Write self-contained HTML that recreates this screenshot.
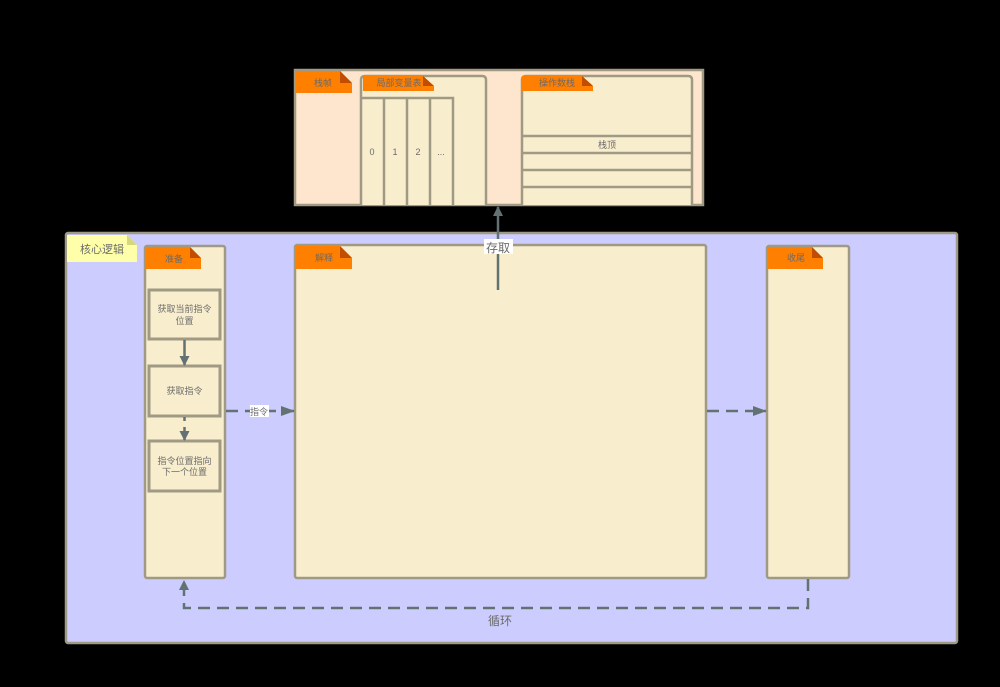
<!DOCTYPE html>
<html><head><meta charset="utf-8"><style>
html,body{margin:0;padding:0;background:#000;width:1000px;height:687px;overflow:hidden}
svg text{font-family:"Liberation Sans","Noto Sans CJK SC",sans-serif;fill:#6b6b6b}
</style></head><body>
<svg width="1000" height="687" viewBox="0 0 1000 687" xmlns="http://www.w3.org/2000/svg">
<defs>
<marker id="ah" markerWidth="10" markerHeight="12" refX="9" refY="6" orient="auto" markerUnits="userSpaceOnUse">
<path d="M0,1 L10,6 L0,11 Z" fill="#627272"/></marker>
<marker id="ah2" markerWidth="14" markerHeight="10" refX="13" refY="5" orient="auto" markerUnits="userSpaceOnUse">
<path d="M0,0 L14,5 L0,10 Z" fill="#627272"/></marker>
</defs>
<!-- stack frame -->
<rect x="295" y="70" width="408" height="135" fill="#fee5cd" stroke="#a09a85" stroke-width="2.5"/>
<path d="M296,71 H340 L352,83 V93 H296 Z" fill="#ff7f00"/><path d="M340,71 L352,83 H340 Z" fill="#c14d00"/>
<text x="323" y="86" font-size="9" text-anchor="middle">栈帧</text>
<!-- local var table -->
<path d="M361,205 V80 Q361,76 365,76 H482 Q486,76 486,80 V205" fill="#f8edcd" stroke="#a09a85" stroke-width="2.5"/>
<path d="M363,76 H423 L434,86 V91 H363 Z" fill="#ff7f00"/><path d="M423,76 L434,86 H423 Z" fill="#c14d00"/>
<text x="399" y="86" font-size="9" text-anchor="middle">局部变量表</text>
<path d="M361,98 H453 V205 M384,98 V205 M407,98 V205 M430,98 V205" fill="none" stroke="#a09a85" stroke-width="2.5"/>
<text x="372" y="155" font-size="9" text-anchor="middle">0</text>
<text x="395" y="155" font-size="9" text-anchor="middle">1</text>
<text x="418" y="155" font-size="9" text-anchor="middle">2</text>
<text x="441" y="155" font-size="9" text-anchor="middle" fill="#aaa">...</text>
<!-- operand stack -->
<path d="M522,205 V80 Q522,76 526,76 H688 Q692,76 692,80 V205" fill="#f8edcd" stroke="#a09a85" stroke-width="2.5"/>
<path d="M522,76 H582 L593,86 V91 H522 Z" fill="#ff7f00"/><path d="M582,76 L593,86 H582 Z" fill="#c14d00"/>
<text x="557" y="86" font-size="9" text-anchor="middle">操作数栈</text>
<path d="M522,136 H692 M522,153 H692 M522,170 H692 M522,187 H692" stroke="#a09a85" stroke-width="2.5"/>
<text x="607" y="148" font-size="9" text-anchor="middle">栈顶</text>
<!-- core -->
<rect x="66" y="233" width="891" height="410" rx="2" fill="#ccccfe" stroke="#a09a85" stroke-width="2.5"/>
<path d="M67,235 H127 L137,245 V262 H67 Z" fill="#ffffaa"/><path d="M127,235 L137,245 H127 Z" fill="#d6d67a"/>
<text x="102" y="253" font-size="11" text-anchor="middle">核心逻辑</text>
<!-- prepare -->
<rect x="145" y="246" width="80" height="332" rx="2" fill="#f8edcd" stroke="#a09a85" stroke-width="2.5"/>
<path d="M146,247 H190 L201,258 V269 H146 Z" fill="#ff7f00"/><path d="M190,247 L201,258 H190 Z" fill="#c14d00"/>
<text x="174" y="262" font-size="9" text-anchor="middle">准备</text>
<rect x="149" y="290" width="71" height="49" fill="#f8edcd" stroke="#a09a85" stroke-width="3"/>
<text x="184.5" y="312" font-size="9" text-anchor="middle">获取当前指令</text>
<text x="184.5" y="324" font-size="9" text-anchor="middle">位置</text>
<rect x="149" y="366" width="71" height="50" fill="#f8edcd" stroke="#a09a85" stroke-width="3"/>
<text x="184.5" y="394" font-size="9" text-anchor="middle">获取指令</text>
<rect x="149" y="441" width="71" height="50" fill="#f8edcd" stroke="#a09a85" stroke-width="3"/>
<text x="184.5" y="464" font-size="9" text-anchor="middle">指令位置指向</text>
<text x="184.5" y="475" font-size="9" text-anchor="middle">下一个位置</text>
<line x1="184.5" y1="340" x2="184.5" y2="365" stroke="#627272" stroke-width="2.5" marker-end="url(#ah)"/>
<line x1="184.5" y1="417" x2="184.5" y2="440" stroke="#627272" stroke-width="2.5" stroke-dasharray="4,6" marker-end="url(#ah)"/>
<!-- interpret -->
<rect x="295" y="245" width="411" height="333" rx="2" fill="#f8edcd" stroke="#a09a85" stroke-width="2.5"/>
<path d="M296,246 H340 L352,258 V269 H296 Z" fill="#ff7f00"/><path d="M340,246 L352,258 H340 Z" fill="#c14d00"/>
<text x="324" y="261" font-size="9" text-anchor="middle">解释</text>
<!-- finish -->
<rect x="767" y="246" width="82" height="332" rx="2" fill="#f8edcd" stroke="#a09a85" stroke-width="2.5"/>
<path d="M768,247 H812 L823,258 V269 H768 Z" fill="#ff7f00"/><path d="M812,247 L823,258 H812 Z" fill="#c14d00"/>
<text x="796" y="261" font-size="9" text-anchor="middle">收尾</text>
<!-- arrows -->
<line x1="498" y1="290" x2="498" y2="207" stroke="#627272" stroke-width="2.5" marker-end="url(#ah)"/>
<rect x="484" y="239" width="29" height="15" fill="#fff"/>
<text x="498" y="252" font-size="12" text-anchor="middle" fill="#555">存取</text>
<line x1="226" y1="411" x2="294" y2="411" stroke="#627272" stroke-width="2.5" stroke-dasharray="12,7" marker-end="url(#ah2)"/>
<rect x="250" y="405" width="19" height="12" fill="#fff"/>
<text x="259" y="415" font-size="9" text-anchor="middle">指令</text>
<line x1="707" y1="411" x2="766" y2="411" stroke="#627272" stroke-width="2.5" stroke-dasharray="12,7" marker-end="url(#ah2)"/>
<path d="M808,579 V608 H184 V581" fill="none" stroke="#627272" stroke-width="2.5" stroke-dasharray="12,7" marker-end="url(#ah)"/>
<text x="500" y="625" font-size="12" text-anchor="middle" fill="#7a7a8a">循环</text>
</svg>
</body></html>
